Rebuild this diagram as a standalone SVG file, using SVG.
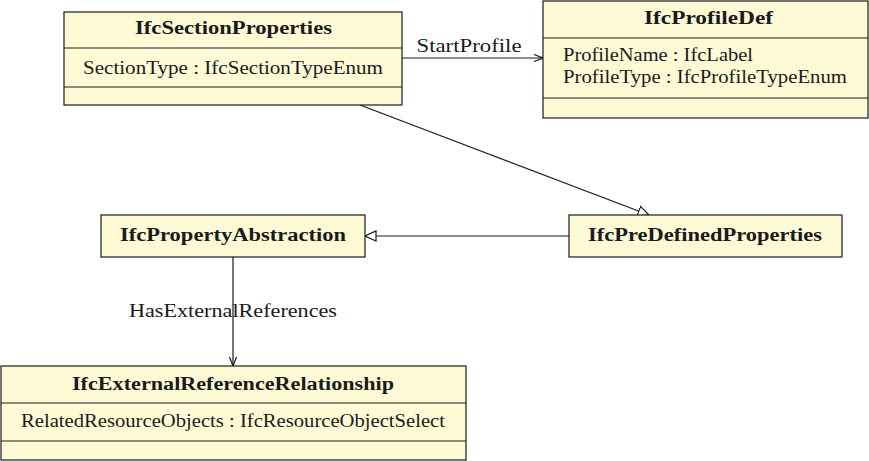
<svg xmlns="http://www.w3.org/2000/svg" width="869" height="461" viewBox="0 0 869 461">
<defs>
<style>
.box{fill:#fffad6;stroke:#1a1a1a;stroke-width:1.2}
.div{stroke:#1a1a1a;stroke-width:1.2}
text{font-family:'Liberation Serif','DejaVu Serif',serif;font-size:18px;fill:#1a1a1a}
.b{font-weight:bold;text-anchor:middle}
.c{text-anchor:middle}
.edge{stroke:#1a1a1a;stroke-width:1.2;fill:none}
</style>
<marker id="open" viewBox="0 0 10 10" refX="10" refY="5" markerWidth="10" markerHeight="10" markerUnits="userSpaceOnUse" orient="auto">
<path d="M1,1.5 L10,5 L1,8.5" fill="none" stroke="#1a1a1a" stroke-width="1.2"/>
</marker>
<marker id="tri" viewBox="0 0 12 12" refX="11.5" refY="6" markerWidth="12" markerHeight="12" markerUnits="userSpaceOnUse" orient="auto">
<path d="M0.5,1 L11.5,6 L0.5,11 Z" fill="#fff" stroke="#1a1a1a" stroke-width="1.2"/>
</marker>
</defs>
<g id="connectors">
<line class="edge" x1="402" y1="58" x2="543" y2="58" marker-end="url(#open)"/>
<text class="c" x="469" y="52" textLength="105" lengthAdjust="spacingAndGlyphs">StartProfile</text>
<line class="edge" x1="360" y1="105" x2="649" y2="215" marker-end="url(#tri)"/>
<line class="edge" x1="569" y1="236" x2="365" y2="236" marker-end="url(#tri)"/>
<line class="edge" x1="233" y1="257" x2="233" y2="366" marker-end="url(#open)"/>
<text class="c" x="233" y="317" textLength="208" lengthAdjust="spacingAndGlyphs">HasExternalReferences</text>
</g>
<g id="IfcSectionProperties">
<rect class="box" x="64" y="12" width="338" height="93"/>
<line class="div" x1="64" y1="48" x2="402" y2="48"/>
<line class="div" x1="64" y1="87" x2="402" y2="87"/>
<text class="b" x="233.5" y="34" textLength="197" lengthAdjust="spacingAndGlyphs">IfcSectionProperties</text>
<text class="c" x="233" y="74" textLength="300" lengthAdjust="spacingAndGlyphs">SectionType : IfcSectionTypeEnum</text>
</g>
<g id="IfcProfileDef">
<rect class="box" x="543" y="1" width="325" height="117"/>
<line class="div" x1="543" y1="38" x2="868" y2="38"/>
<line class="div" x1="543" y1="98" x2="868" y2="98"/>
<text class="b" x="708.5" y="24" textLength="129" lengthAdjust="spacingAndGlyphs">IfcProfileDef</text>
<text x="563" y="61" textLength="190" lengthAdjust="spacingAndGlyphs">ProfileName : IfcLabel</text>
<text x="563" y="83" textLength="284" lengthAdjust="spacingAndGlyphs">ProfileType : IfcProfileTypeEnum</text>
</g>
<g id="IfcPropertyAbstraction">
<rect class="box" x="101" y="215" width="264" height="42"/>
<text class="b" x="233" y="241" textLength="226" lengthAdjust="spacingAndGlyphs">IfcPropertyAbstraction</text>
</g>
<g id="IfcPreDefinedProperties">
<rect class="box" x="569" y="215" width="273" height="42"/>
<text class="b" x="705" y="241" textLength="234" lengthAdjust="spacingAndGlyphs">IfcPreDefinedProperties</text>
</g>
<g id="IfcExternalReferenceRelationship">
<rect class="box" x="1" y="366" width="465" height="94"/>
<line class="div" x1="1" y1="403" x2="466" y2="403"/>
<line class="div" x1="1" y1="441" x2="466" y2="441"/>
<text class="b" x="233" y="390" textLength="322" lengthAdjust="spacingAndGlyphs">IfcExternalReferenceRelationship</text>
<text class="c" x="233" y="427" textLength="424" lengthAdjust="spacingAndGlyphs">RelatedResourceObjects : IfcResourceObjectSelect</text>
</g>
</svg>
